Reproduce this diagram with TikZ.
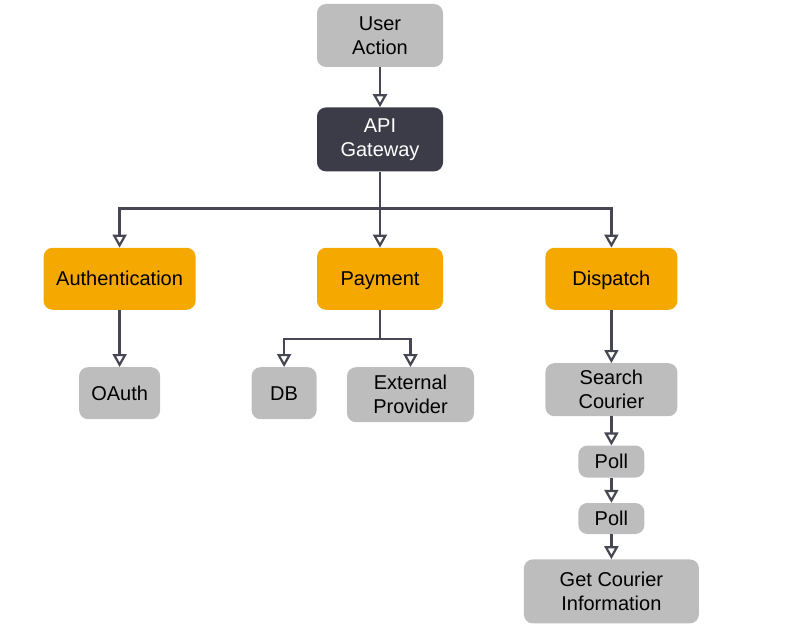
\documentclass[tikz,border=0pt]{standalone}
\usepackage{fontspec}
\setmainfont{Liberation Sans}
\usetikzlibrary{positioning,arrows.meta}
\definecolor{boxgray}{HTML}{BDBDBD}
\definecolor{gwdark}{HTML}{3C3C48}
\definecolor{svcorange}{HTML}{F5A800}
\definecolor{wire}{HTML}{474753}
\newcommand{\boxfont}{\fontsize{20}{24}\selectfont}

\begin{document}
\begin{tikzpicture}[x=1pt,y=-1pt,
                box/.style = {rounded corners=9pt, align=center, font=\boxfont, inner sep=0pt, minimum height=63pt},
                oneline/.style = {text height=15pt, text depth=1pt},
                leaf/.style = {box, fill=boxgray, text=black},
                gate/.style = {box, fill=gwdark, text=white},
                svc/.style = {box, oneline, fill=svcorange, text=black, minimum height=62pt},
                flow/.style = {draw=wire, line width=2.5pt, -{Triangle[open,length=13pt,width=14pt,line width=2.2pt]}}]
                \useasboundingbox (0,0) rectangle (788,626);
                \node[leaf, minimum width=126pt] (ua) at (380,35.5) {User\\Action};
                \node[gate, minimum width=126pt, minimum height=64pt] (gw) [below=40pt of ua] {API\\Gateway};
                \node[svc, minimum width=126pt] (pay) [below=76pt of gw] {Payment};
                \node[svc, minimum width=152pt] (auth) [left=121pt of pay] {Authentication};
                \node[svc, minimum width=132pt] (disp) [right=102pt of pay] {Dispatch};
                % second row
                \node[leaf, oneline, minimum width=81pt, minimum height=52pt] (oauth) [below=57pt of auth] {OAuth};
                \node[leaf, oneline, minimum width=65pt, minimum height=52pt] (db) [below=57pt of pay.south west, anchor=north east] {DB};
                \node[leaf, minimum width=127pt, minimum height=55pt] (ext) [right=30pt of db.north east, anchor=north west] {External\\Provider};
                \node[leaf, minimum width=132pt, minimum height=53pt] (sc) [below=53pt of disp] {Search\\Courier};
                \node[leaf, oneline, minimum width=66pt, minimum height=32pt] (poll1) [below=29pt of sc] {Poll};
                \node[leaf, oneline, minimum width=66pt, minimum height=31pt] (poll2) [below=25pt of poll1] {Poll};
                \node[leaf, minimum width=175pt, minimum height=64pt] (gci) [below=25pt of poll2] {Get Courier\\Information};
                \coordinate (split) at ([yshift=-37pt]gw.south);
                \coordinate (psplit) at ([yshift=-29pt]pay.south);
                \path[flow]
                    (ua) edge (gw)
                    (gw) edge (pay)
                    (auth) edge (oauth)
                    (disp) edge (sc)
                    (sc) edge (poll1)
                    (poll1) edge (poll2)
                    (poll2) edge (gci);
                \draw[flow] (split) -| (auth);
                \draw[flow] (split) -| (disp);
                \draw[draw=wire, line width=2.5pt] (pay) -- (psplit);
                \draw[flow] (psplit) -| (db);
                \draw[flow] (psplit) -| (ext);
            \end{tikzpicture}
\end{document}
